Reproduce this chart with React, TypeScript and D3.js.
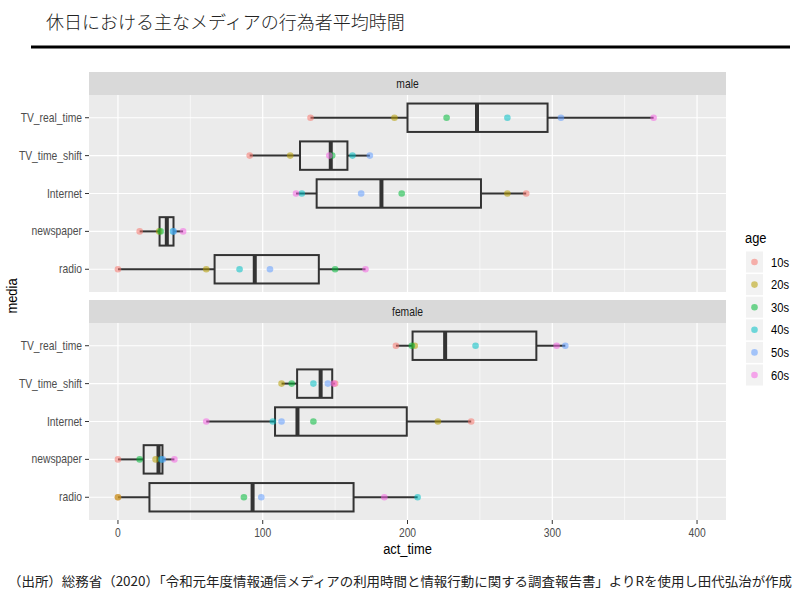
import React from "react";
import * as d3 from "d3";

const media = ["TV_real_time", "TV_time_shift", "Internet", "newspaper", "radio"];
const ages = ["10s", "20s", "30s", "40s", "50s", "60s"];
const ageColors = ["#F8766D", "#B79F00", "#00BA38", "#00BFC4", "#619CFF", "#F564E3"];
const genders = ["male", "female"];
const xTicks = [0, 100, 200, 300, 400];
const xMinor = [50, 150, 250, 350];

// values per age (10s..60s)
const male_TV_real_time = [133, 191, 227, 269, 306, 370];
const male_TV_time_shift = [91, 119, 148, 162, 174, 146];
const male_Internet = [282, 269, 196, 127, 168, 123];
const male_newspaper = [15, 28.5, 29.5, 38, 38.5, 45];
const male_radio = [0, 61, 150, 84, 105, 171];

const female_TV_real_time = [192, 205, 203, 247, 309, 303];
const female_TV_time_shift = [150, 113, 120, 135, 145, 149];
const female_Internet = [244, 221, 135, 107, 113, 61];
const female_newspaper = [0, 26, 15, 30, 31, 39];
const female_radio = [0, 0, 87, 207, 99, 184];

const data: Record<string, number[][]> = {
  male: [male_TV_real_time, male_TV_time_shift, male_Internet, male_newspaper, male_radio],
  female: [female_TV_real_time, female_TV_time_shift, female_Internet, female_newspaper, female_radio],
};

const TITLE = "休日における主なメディアの行為者平均時間";
const CAPTION =
  "（出所）総務省（2020）「令和元年度情報通信メディアの利用時間と情報行動に関する調査報告書」よりRを使用し田代弘治が作成";

const FONT = "'Liberation Sans', Arial, sans-serif";
const JFONT = "'Noto Sans CJK JP', 'Noto Sans', sans-serif";
const SQ = 0.86;

const panelLeft = 89;
const panelRight = 726;
const panels = [
  { g: "male", stripTop: 72, top: 95, bottom: 292 },
  { g: "female", stripTop: 300, top: 323, bottom: 520 },
];

function stats(vals: number[]) {
  const s = [...vals].sort((a, b) => a - b);
  const q1 = d3.quantile(s, 0.25)!;
  const med = d3.quantile(s, 0.5)!;
  const q3 = d3.quantile(s, 0.75)!;
  const iqr = q3 - q1;
  const lo = d3.min(s.filter((v) => v >= q1 - 1.5 * iqr))!;
  const hi = d3.max(s.filter((v) => v <= q3 + 1.5 * iqr))!;
  return { q1, med, q3, lo, hi };
}

function NText(props: {
  x: number;
  y: number;
  size: number;
  fill: string;
  anchor?: string;
  rotate?: number;
  children: React.ReactNode;
}) {
  const { x, y, size, fill, anchor, rotate, children } = props;
  return (
    <text
      transform={`translate(${x},${y}) rotate(${rotate || 0}) scale(${SQ},1)`}
      textAnchor={anchor || "start"}
      fontFamily={FONT}
      fontSize={size}
      fill={fill}
    >
      {children}
    </text>
  );
}

export default function App() {
  const x = d3.scaleLinear().domain([-20, 420]).range([panelLeft, panelRight]);

  return (
    <svg width={800} height={596} style={{ position: "absolute", left: 0, top: 0, background: "#fff" }}>
      <rect x={0} y={0} width={800} height={596} fill="#fff" />
      <text x={46} y={29} fontFamily={JFONT} fontSize={18} fill="#222" fontWeight={300}>
        {TITLE}
      </text>
      <line x1={31} x2={790} y1={47} y2={47} stroke="#000" strokeWidth={3} />

      {panels.map((p) => {
        const step = (p.bottom - p.top) / (media.length - 1 + 1.2);
        const y = d3
          .scalePoint()
          .domain(media)
          .range([p.top + 0.6 * step, p.bottom - 0.6 * step]);
        const boxH = step * 0.75;
        return (
          <g key={p.g}>
            <rect x={panelLeft} y={p.stripTop} width={panelRight - panelLeft} height={p.top - p.stripTop} fill="#D9D9D9" />
            <NText x={(panelLeft + panelRight) / 2} y={(p.stripTop + p.top) / 2 + 4} size={12} fill="#1A1A1A" anchor="middle">
              {p.g}
            </NText>
            <rect x={panelLeft} y={p.top} width={panelRight - panelLeft} height={p.bottom - p.top} fill="#EBEBEB" />
            {xMinor.map((t) => (
              <line key={"mn" + t} x1={x(t)} x2={x(t)} y1={p.top} y2={p.bottom} stroke="#fff" strokeWidth={0.6} />
            ))}
            {xTicks.map((t) => (
              <line key={"mj" + t} x1={x(t)} x2={x(t)} y1={p.top} y2={p.bottom} stroke="#fff" strokeWidth={1.2} />
            ))}
            {media.map((m) => (
              <line key={"hg" + m} x1={panelLeft} x2={panelRight} y1={y(m)!} y2={y(m)!} stroke="#fff" strokeWidth={1.2} />
            ))}
            {media.map((m) => (
              <g key={"yl" + m}>
                <line x1={85} x2={89} y1={y(m)!} y2={y(m)!} stroke="#333" strokeWidth={1} />
                <NText x={82} y={y(m)! + 4} size={12} fill="#4D4D4D" anchor="end">
                  {m}
                </NText>
              </g>
            ))}
            {media.map((m, mi) => {
              const st = stats(data[p.g][mi]);
              const cy = y(m)!;
              return (
                <g key={"bx" + m} stroke="#333" fill="none">
                  <line x1={x(st.lo)} x2={x(st.q1)} y1={cy} y2={cy} strokeWidth={2} />
                  <line x1={x(st.q3)} x2={x(st.hi)} y1={cy} y2={cy} strokeWidth={2} />
                  <rect x={x(st.q1)} y={cy - boxH / 2} width={x(st.q3) - x(st.q1)} height={boxH} strokeWidth={2} />
                  <line x1={x(st.med)} x2={x(st.med)} y1={cy - boxH / 2} y2={cy + boxH / 2} strokeWidth={4} />
                </g>
              );
            })}
            {media.map((m, mi) =>
              data[p.g][mi].map((v, ai) => (
                <circle
                  key={"pt" + m + ai}
                  cx={x(v)}
                  cy={y(m)!}
                  r={3.3}
                  fill={ageColors[ai]}
                  fillOpacity={0.55}
                />
              ))
            )}
          </g>
        );
      })}

      {xTicks.map((t) => (
        <g key={"xt" + t}>
          <line x1={x(t)} x2={x(t)} y1={520} y2={524} stroke="#333" strokeWidth={1} />
          <NText x={x(t)} y={537} size={12} fill="#4D4D4D" anchor="middle">
            {String(t)}
          </NText>
        </g>
      ))}
      <NText x={(panelLeft + panelRight) / 2} y={554} size={15} fill="#000" anchor="middle">
        act_time
      </NText>
      <NText x={17} y={296} size={15} fill="#000" anchor="middle" rotate={-90}>
        media
      </NText>

      <NText x={745} y={243} size={15} fill="#000">
        age
      </NText>
      {ages.map((a, i) => {
        const cy = 262 + i * 22.6;
        return (
          <g key={"lg" + a}>
            <rect x={746} y={cy - 10.5} width={17} height={21} fill="#F2F2F2" />
            <circle cx={754.5} cy={cy} r={3.3} fill={ageColors[i]} fillOpacity={0.55} />
            <NText x={771} y={cy + 4.5} size={13} fill="#000">
              {a}
            </NText>
          </g>
        );
      })}

      <text
        x={8}
        y={586}
        fontFamily={JFONT}
        fontSize={13}
        fill="#222"
        textLength={784}
        lengthAdjust="spacingAndGlyphs"
      >
        {CAPTION}
      </text>
    </svg>
  );
}
